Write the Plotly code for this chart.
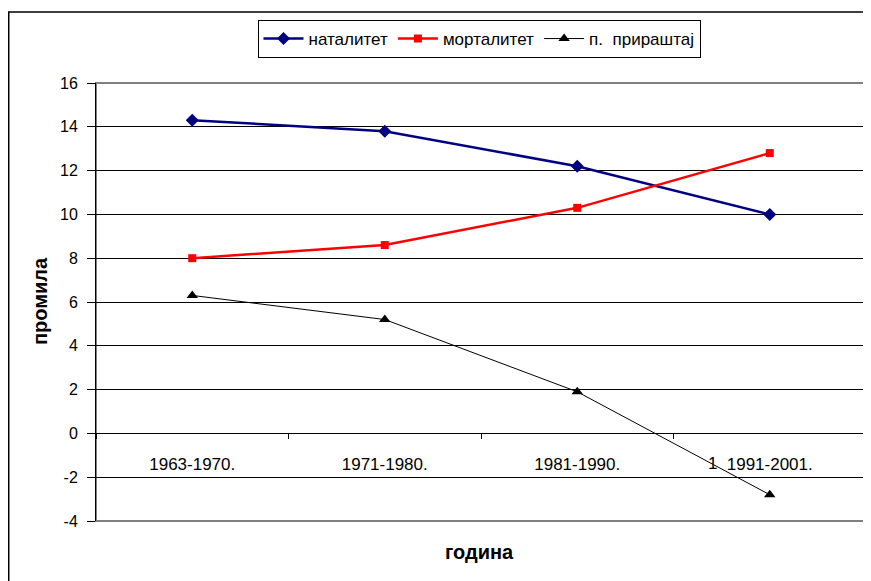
import plotly.graph_objects as go

categories = ["1963-1970.", "1971-1980.", "1981-1990.", "1991-2001."]
natalitet = [14.3, 13.8, 12.2, 10.0]
mortalitet = [8.0, 8.6, 10.3, 12.8]
prirastaj = [6.3, 5.2, 1.9, -2.8]
y_ticks = [-4, -2, 0, 2, 4, 6, 8, 10, 12, 14, 16]
y_tick_labels = ["-4", "-2", "0", "2", "4", "6", "8", "10", "12", "14", "16"]

FONT = "Liberation Sans, Arial, sans-serif"

fig = go.Figure()
fig.add_trace(go.Scatter(x=categories, y=natalitet, name="наталитет", mode="lines+markers",
                         line=dict(color="#000080", width=2.5),
                         marker=dict(symbol="diamond", size=10, color="#000080")))
fig.add_trace(go.Scatter(x=categories, y=mortalitet, name="морталитет", mode="lines+markers",
                         line=dict(color="#FF0000", width=2.5),
                         marker=dict(symbol="square", size=8, color="#FF0000")))
fig.add_trace(go.Scatter(x=categories, y=prirastaj, name="п.\u00a0\u00a0прираштај", mode="lines+markers",
                         line=dict(color="#000000", width=1),
                         marker=dict(symbol="triangle-up", size=10, color="#000000")))

# page body has an 8px margin, so the figure is drawn 8px in from the window edge
OFF = 8
W, H = 871 - OFF, 581 - OFF
L, T = 96 - OFF, 83 - OFF
R = W - (866 - OFF)
B = H - (521 - OFF)
pw, ph = W - L - R, H - T - B


def px(x):
    return (x - OFF - L) / pw


def py(y):
    return (H - B - (y - OFF)) / ph


fig.update_layout(
    width=W, height=H,
    margin=dict(l=L, r=R, t=T, b=B, pad=0),
    paper_bgcolor="white", plot_bgcolor="white",
    font=dict(family=FONT, size=17, color="black"),
    showlegend=True,
    legend=dict(orientation="h", x=px(479), xanchor="center", y=py(20), yanchor="top",
                bordercolor="black", borderwidth=1, font=dict(size=17), bgcolor="white",
                itemwidth=40, tracegroupgap=0),
    xaxis=dict(type="category", range=[-0.5, 3.5], anchor="free", position=0.2,
               showline=True, linecolor="black", linewidth=1,
               ticks="outside", ticklen=5, tickcolor="black", tickson="boundaries",
               showgrid=False, ticklabelstandoff=15,
               tickfont=dict(size=17)),
    yaxis=dict(range=[-4, 16], tickmode="array", tickvals=y_ticks, ticktext=y_tick_labels,
               showline=True, linecolor="black", linewidth=1,
               ticks="outside", ticklen=8, tickcolor="black", ticklabelstandoff=6,
               showgrid=True, gridcolor="black", gridwidth=1, zeroline=False,
               tickfont=dict(size=16)),
    shapes=[
        dict(type="rect", xref="paper", yref="paper", x0=0, x1=1, y0=0, y1=1,
             line=dict(color="#808080", width=2), layer="below"),
        dict(type="rect", xref="paper", yref="paper",
             x0=(0.75 - L) / pw, x1=(W + 10 - L) / pw,
             y0=-(B + 10) / ph, y1=py(12),
             line=dict(color="black", width=1.5), layer="below"),
    ],
    annotations=[
        dict(text="<b>промила</b>", xref="paper", yref="paper", x=px(40), y=py(301),
             xanchor="center", yanchor="middle",
             textangle=-90, showarrow=False, font=dict(size=20)),
        dict(text="<b>година</b>", xref="paper", yref="paper", x=px(479), y=py(552),
             xanchor="center", yanchor="middle",
             showarrow=False, font=dict(size=20)),
        dict(text="1", xref="x", yref="paper", x=2.7, y=py(463),
             xanchor="center", yanchor="middle",
             showarrow=False, font=dict(size=17)),
    ],
)

fig.write_html("out.html")
